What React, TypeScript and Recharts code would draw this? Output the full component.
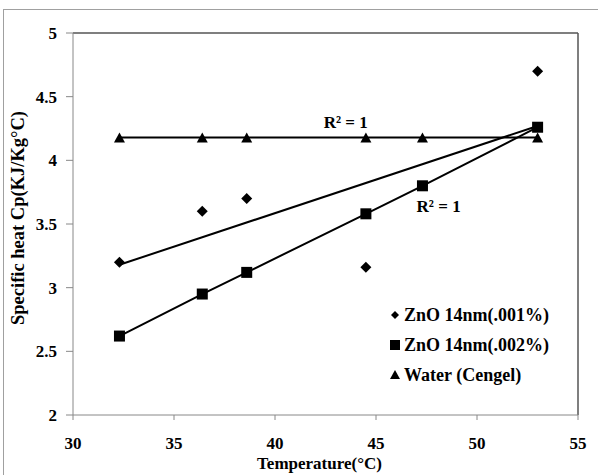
import React from 'react';
import { ScatterChart, Scatter, XAxis, YAxis, Legend, ReferenceLine, ReferenceDot } from 'recharts';

const temps001 = [32.3, 36.4, 38.6, 44.5, 53];
const cp001 = [3.2, 3.6, 3.7, 3.16, 4.7];
const temps = [32.3, 36.4, 38.6, 44.5, 47.3, 53];
const cp002 = [2.62, 2.95, 3.12, 3.58, 3.8, 4.26];
const cpWater = [4.18, 4.18, 4.18, 4.18, 4.18, 4.18];
// linear trendline of the .001% series, as drawn in the figure
const trendTemps = [32.3, 53];
const trendCp = [3.18, 4.27];
const xTicks = [30, 35, 40, 45, 50, 55];
const yTicks = [2, 2.5, 3, 3.5, 4, 4.5, 5];
const r2Labels = [
  { x: 43.5, y: 4.3, text: 'R² = 1' },
  { x: 48.1, y: 3.64, text: 'R² = 1' },
];
const legendItems = [
  { name: 'ZnO 14nm(.001%)', shape: 'diamond' },
  { name: 'ZnO 14nm(.002%)', shape: 'square' },
  { name: 'Water (Cengel)', shape: 'triangle' },
];

const zip = (xs: number[], ys: number[]) => xs.map((x, i) => ({ x, y: ys[i] }));

const FONT = '"Liberation Serif", "Times New Roman", serif';

const Diamond = (props: any) => {
  const { cx, cy } = props;
  return <polygon points={`${cx},${cy - 5.5} ${cx + 5.5},${cy} ${cx},${cy + 5.5} ${cx - 5.5},${cy}`} fill="#000" />;
};
const Square = (props: any) => {
  const { cx, cy } = props;
  return <rect x={cx - 5.5} y={cy - 5.5} width={11} height={11} fill="#000" />;
};
const Triangle = (props: any) => {
  const { cx, cy } = props;
  return <polygon points={`${cx},${cy - 5} ${cx + 5.5},${cy + 5} ${cx - 5.5},${cy + 5}`} fill="#000" />;
};
const Nothing = () => <g />;

const legendMarker = (shape: string) => {
  if (shape === 'diamond') return <polygon points="6,3 10,7 6,11 2,7" fill="#000" />;
  if (shape === 'square') return <rect x={1} y={2} width={10} height={10} fill="#000" />;
  return <polygon points="6,2 11,11 1,11" fill="#000" />;
};

const renderLegend = () => (
  <div style={{ fontFamily: FONT, fontWeight: 'bold', fontSize: 18, color: '#000' }}>
    {legendItems.map((it) => (
      <div key={it.name} style={{ display: 'flex', alignItems: 'center', height: 30 }}>
        <svg width={12} height={14} style={{ marginRight: 3 }}>
          {legendMarker(it.shape)}
        </svg>
        <span>{it.name}</span>
      </div>
    ))}
  </div>
);

const yLabel = (props: any) => {
  const { viewBox } = props;
  const cx = 18;
  const cy = viewBox.y + viewBox.height / 2 - 6;
  return (
    <text x={cx} y={cy} transform={`rotate(-90 ${cx} ${cy})`} textAnchor="middle" dominantBaseline="central"
      fontFamily={FONT} fontWeight="bold" fontSize={18.5} fill="#000">
      Specific heat Cp(KJ/Kg°C)
    </text>
  );
};

const tickStyle = { fill: '#000', fontFamily: FONT, fontWeight: 'bold', fontSize: 17 };

export default function App() {
  return (
    <div style={{ position: 'absolute', left: 0, top: 0, width: 598, height: 475, overflow: 'hidden', background: '#fff' }}>
      <div style={{ position: 'absolute', left: 3, top: 9, width: 620, height: 500, border: '1px solid #a0a0a0' }} />
      <ScatterChart width={598} height={475} margin={{ top: 33, right: 20, bottom: 0, left: 0 }} style={{ position: 'absolute', left: 0, top: 0 }}>
        <XAxis type="number" dataKey="x" domain={[30, 55]} ticks={xTicks} height={60}
          tick={{ ...tickStyle, dy: 4 }} tickSize={5} tickMargin={13} stroke="#888" tickLine={{ stroke: '#888' }}
          label={{ value: 'Temperature(°C)', position: 'insideBottom', offset: 6, fill: '#000', fontFamily: FONT, fontWeight: 'bold', fontSize: 17, dx: -6 }} />
        <YAxis type="number" dataKey="y" domain={[2, 5]} ticks={yTicks} width={73}
          tick={tickStyle} tickSize={7} tickMargin={9} stroke="#888" tickLine={{ stroke: '#888' }}
          label={{ content: yLabel }} />
        <ReferenceLine y={5} stroke="#555" strokeWidth={1.5} />
        <ReferenceLine x={55} stroke="#555" strokeWidth={1.5} />
        <Scatter data={zip(trendTemps, trendCp)} line={{ stroke: '#000', strokeWidth: 2 }} shape={Nothing} isAnimationActive={false} legendType="none" />
        <Scatter data={zip(temps, cpWater)} line={{ stroke: '#000', strokeWidth: 2 }} shape={Triangle} isAnimationActive={false} />
        <Scatter data={zip(temps, cp002)} line={{ stroke: '#000', strokeWidth: 2 }} shape={Square} isAnimationActive={false} />
        <Scatter data={zip(temps001, cp001)} shape={Diamond} isAnimationActive={false} />
        {r2Labels.map((l, i) => (
          <ReferenceDot key={i} x={l.x} y={l.y} r={0} fill="none" stroke="none"
            label={{ value: l.text, position: 'center', fill: '#000', fontFamily: FONT, fontWeight: 'bold', fontSize: 17 }} />
        ))}
        <Legend layout="vertical" align="center" verticalAlign="middle" content={renderLegend}
          wrapperStyle={{ position: 'absolute', left: 389, top: 300, width: 190 }} />
      </ScatterChart>
    </div>
  );
}
